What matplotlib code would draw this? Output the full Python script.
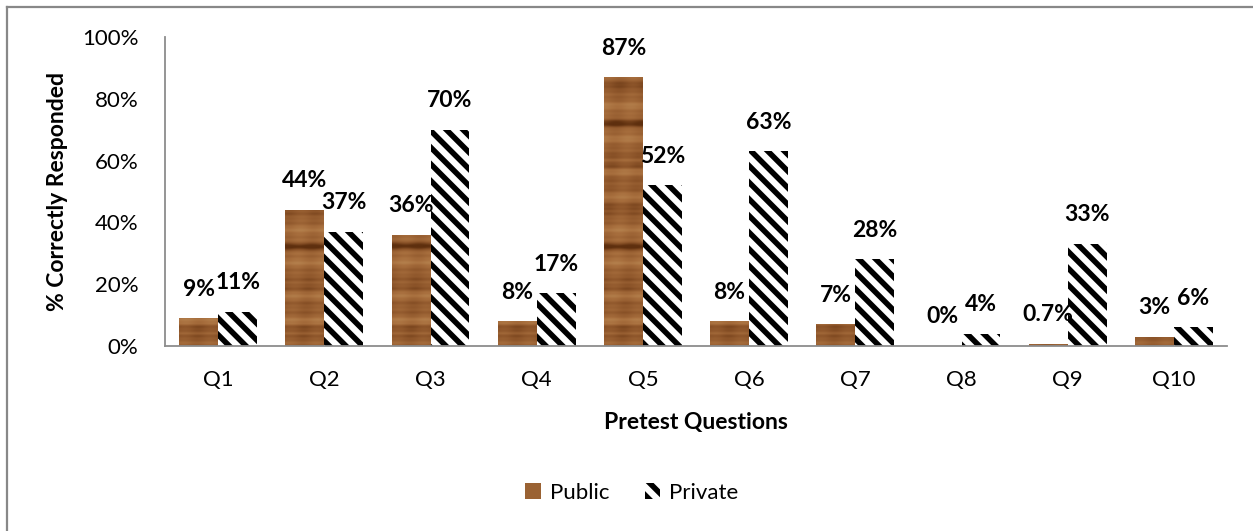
import matplotlib
matplotlib.use('Agg')
import matplotlib.pyplot as plt
from matplotlib.colors import LinearSegmentedColormap
from matplotlib.patches import Patch
from matplotlib.lines import Line2D
import numpy as np

# Pretest results, percent of students answering correctly
questions = ['Q1', 'Q2', 'Q3', 'Q4', 'Q5', 'Q6', 'Q7', 'Q8', 'Q9', 'Q10']
public = [9, 44, 36, 8, 87, 8, 7, 0, 0.7, 3]
private = [11, 37, 70, 17, 52, 63, 28, 4, 33, 6]
public_labels = ['9%', '44%', '36%', '8%', '87%', '8%', '7%', '0%', '0.7%', '3%']
private_labels = ['11%', '37%', '70%', '17%', '52%', '63%', '28%', '4%', '33%', '6%']

plt.rcParams['font.family'] = ['Lato', 'DejaVu Sans']
plt.rcParams['hatch.linewidth'] = 4.0


def wood_texture(rows=310, cols=40):
    """Horizontal wood grain built from a few sine waves."""
    t = np.arange(rows)[:, None].astype(float)
    x = np.arange(cols)[None, :].astype(float)
    g = (0.55 + 0.15 * np.sin(2 * np.pi * t / 31.0)
         + 0.08 * np.sin(2 * np.pi * t / 11.3 + 1.3)
         + 0.04 * np.sin(2 * np.pi * t / 4.7 + 0.4)
         + 0.06 * np.sin(2 * np.pi * x / 27.0 + t / 45.0))
    streak = np.sin(2 * np.pi * t / 41.0 + 0.8)
    g = g - 0.35 * np.clip(streak - 0.75, 0, None) / 0.25
    return np.clip(g, 0, 1) * np.ones_like(x)


wood = LinearSegmentedColormap.from_list(
    'wood', ['#5e2f0e', '#8c5429', '#a76e3d', '#bb8a55'])
tex = wood_texture()

fig = plt.figure(figsize=(12.53, 5.31), dpi=100)
ax = fig.add_axes([165 / 1253, 1 - 346 / 531, 1062 / 1253, 309 / 531])

# outer chart border (left and top edges visible)
fig.add_artist(Line2D([7 / 1253, 7 / 1253], [0, 1 - 7 / 531],
                      transform=fig.transFigure, color='#888888', lw=1.6))
fig.add_artist(Line2D([7 / 1253, 1], [1 - 7 / 531, 1 - 7 / 531],
                      transform=fig.transFigure, color='#888888', lw=1.6))

x = np.arange(len(questions))
w = 0.367

pub_bars = ax.bar(x - w / 2, public, w, color='#9a6233', linewidth=0)
prv_bars = ax.bar(x + w / 2, private, w, facecolor='white', edgecolor='black',
                  hatch='\\\\', linewidth=0)

for bar in pub_bars:
    x0 = bar.get_x()
    im = ax.imshow(tex, cmap=wood, vmin=0, vmax=1, aspect='auto',
                   extent=(x0, x0 + w, 0, 100), interpolation='bilinear',
                   zorder=bar.get_zorder() + 0.1)
    im.set_clip_path(bar)

for bars, labels in ((pub_bars, public_labels), (prv_bars, private_labels)):
    for bar, lab in zip(bars, labels):
        ax.annotate(lab, (bar.get_x() + w / 2, bar.get_height()),
                    xytext=(0, 21), textcoords='offset points',
                    ha='center', va='center', fontsize=16.5, fontweight='bold')

ax.set_xlim(-0.5, len(questions) - 0.5)
ax.set_ylim(0, 100)
ax.set_yticks(range(0, 101, 20))
ax.set_yticklabels([f'{v}%' for v in range(0, 101, 20)])
ax.set_xticks(x)
ax.set_xticklabels(questions)
ax.tick_params(length=0, labelsize=16)
ax.tick_params(axis='x', pad=17)
ax.tick_params(axis='y', pad=19)

for s in ('top', 'right'):
    ax.spines[s].set_visible(False)
for s in ('left', 'bottom'):
    ax.spines[s].set_color('#8c8c8c')
    ax.spines[s].set_linewidth(1.3)

ax.set_xlabel('Pretest Questions', fontsize=16.5, fontweight='bold', labelpad=16)
ax.set_ylabel('% Correctly Responded', fontsize=16.5, fontweight='bold', labelpad=10)

handles = [Patch(facecolor='#9a6233', linewidth=0),
           Patch(facecolor='white', edgecolor='black', hatch='\\\\', linewidth=0)]
fig.legend(handles, ['Public', 'Private'], loc='center', ncol=2,
           bbox_to_anchor=(632 / 1253, 1 - 493 / 531), frameon=False,
           fontsize=16, handlelength=0.7, handleheight=0.7,
           handletextpad=0.4, columnspacing=1.6)

fig.savefig('out.png', dpi=100)
